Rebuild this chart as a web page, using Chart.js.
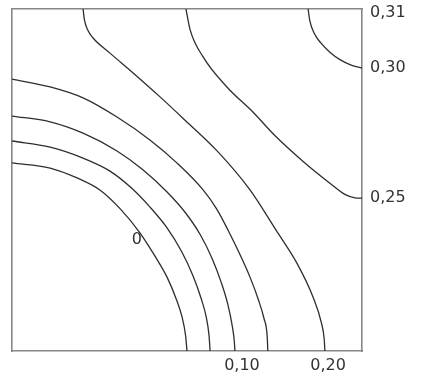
<!DOCTYPE html>
<html>
<head>
<meta charset="utf-8">
<script src="https://cdn.jsdelivr.net/npm/chart.js@4/dist/chart.umd.min.js"></script>
<style>
  html, body { margin: 0; padding: 0; background: #fff; }
  #wrap { width: 424px; height: 380px; }
</style>
</head>
<body>
<div id="wrap"><canvas id="contourChart"></canvas></div>
<script>
// Contour lines (both axes 0..100 across the box)
const c0x = [0, 10.9, 18.6, 25.1, 31.0, 36.6, 41.0, 44.3, 47.0, 48.6, 49.6, 50.0];
const c0y = [55.0, 53.5, 50.6, 47.1, 41.5, 34.5, 27.5, 21.6, 15.0, 9.9, 4.5, 0];

const c1x = [0, 10.9, 20.3, 28.0, 34.3, 39.5, 44.3, 48.5, 51.7, 54.0, 55.5, 56.3, 56.6];
const c1y = [61.4, 59.6, 56.4, 52.6, 47.5, 42.0, 36.0, 29.0, 22.0, 15.5, 9.9, 4.5, 0];

const c2x = [0, 10.9, 20.3, 30.0, 37.4, 44.3, 49.5, 53.8, 57.2, 59.8, 61.7, 62.9, 63.5, 63.7];
const c2y = [68.7, 67.0, 63.7, 58.5, 53.0, 46.5, 40.5, 34.0, 27.0, 20.0, 13.5, 7.5, 3.0, 0];

const c3x = [0, 10.9, 20.3, 30.0, 39.4, 47.1, 54.6, 58.5, 61.7, 65.0, 68.0, 70.4, 72.0, 72.9, 73.1];
const c3y = [79.5, 77.2, 74.0, 68.4, 61.7, 55.0, 47.1, 41.5, 35.4, 28.5, 21.6, 15.0, 9.5, 4.5, 0];

const c4x = [20.3, 20.7, 21.6, 23.1, 28.0, 34.6, 42.3, 48.9, 58.6, 68.0, 75.4, 81.4, 86.0, 88.4, 89.2, 89.4];
const c4y = [100, 96.8, 93.9, 91.6, 87.1, 81.3, 74.3, 68.0, 58.5, 47.1, 35.4, 25.7, 15.8, 8.2, 3.5, 0];

const c5x = [49.7, 50.9, 54.6, 61.4, 68.9, 75.1, 83.1, 90.9, 95.1, 98.0, 100];
const c5y = [100, 93.9, 86.0, 77.2, 69.8, 63.0, 55.5, 49.0, 45.8, 44.8, 44.7];

const c6x = [84.6, 85.1, 86.3, 88.3, 90.9, 93.7, 96.9, 100];
const c6y = [100, 96.5, 93.0, 90.0, 87.3, 85.2, 83.6, 82.7];

// Contour value labels
const rightTickValues = [99.0, 82.7, 44.7];
const rightTickLabels = ['0,31', '0,30', '0,25'];
const bottomTickValues = [65.7, 90.3];
const bottomTickLabels = ['0,10', '0,20'];
const innerLabel = { text: '0', x: 35.7, y: 32.5 };

const contours = [[c0x, c0y], [c1x, c1y], [c2x, c2y], [c3x, c3y], [c4x, c4y], [c5x, c5y], [c6x, c6y]];

const labelFont = { family: 'DejaVu Sans', size: 16 };
const frameColor = '#868686';

function toPoints(xs, ys) {
    return xs.map((x, i) => ({ x: x, y: ys[i] }));
}

// draws the "0" label inside the plot
const innerLabelPlugin = {
    id: 'innerLabel',
    afterDatasetsDraw(chart) {
        const ctx = chart.ctx;
        const px = chart.scales.x.getPixelForValue(innerLabel.x);
        const py = chart.scales.y.getPixelForValue(innerLabel.y);
        ctx.save();
        ctx.font = labelFont.size + 'px ' + labelFont.family;
        ctx.fillStyle = '#333';
        ctx.textAlign = 'center';
        ctx.textBaseline = 'middle';
        ctx.fillText(innerLabel.text, px, py);
        ctx.restore();
    }
};

const ctx = document.getElementById('contourChart').getContext('2d');
new Chart(ctx, {
    type: 'scatter',
    data: {
        datasets: contours.map(([xs, ys]) => ({
            data: toPoints(xs, ys),
            showLine: true,
            borderColor: '#2e2e2e',
            borderWidth: 1.3,
            pointRadius: 0,
            cubicInterpolationMode: 'monotone',
            fill: false
        }))
    },
    options: {
        responsive: true,
        maintainAspectRatio: false,
        animation: false,
        layout: { padding: { left: 12, top: 9 } },
        plugins: {
            legend: { display: false },
            tooltip: { enabled: false }
        },
        scales: {
            x: {
                type: 'linear',
                min: 0,
                max: 100,
                grid: { display: false },
                border: { display: true, color: frameColor, width: 1.6 },
                afterBuildTicks: axis => {
                    axis.ticks = bottomTickValues.map(v => ({ value: v }));
                },
                afterFit: axis => {
                    axis.height = 29;
                    axis.paddingLeft = 0;
                    axis.paddingRight = 0;
                },
                ticks: {
                    autoSkip: false,
                    maxRotation: 0,
                    padding: -3,
                    color: '#333',
                    font: labelFont,
                    callback: (v, i) => bottomTickLabels[i]
                }
            },
            xTop: {
                type: 'linear',
                position: 'top',
                min: 0,
                max: 100,
                grid: { display: false },
                ticks: { display: false },
                border: { display: true, color: frameColor, width: 1.6 },
                afterFit: axis => { axis.height = 0; }
            },
            y: {
                type: 'linear',
                position: 'right',
                min: 0,
                max: 100,
                grid: { display: false },
                border: { display: true, color: frameColor, width: 1.6 },
                afterBuildTicks: axis => {
                    axis.ticks = rightTickValues.map(v => ({ value: v }));
                },
                afterFit: axis => {
                    axis.width = 62;
                    axis.paddingTop = 0;
                    axis.paddingBottom = 0;
                },
                ticks: {
                    autoSkip: false,
                    padding: 0,
                    color: '#333',
                    font: labelFont,
                    callback: (v, i) => rightTickLabels[i]
                }
            },
            yLeft: {
                type: 'linear',
                position: 'left',
                min: 0,
                max: 100,
                grid: { display: false },
                ticks: { display: false },
                border: { display: true, color: frameColor, width: 1.6 },
                afterFit: axis => { axis.width = 0; }
            }
        }
    },
    plugins: [innerLabelPlugin]
});
</script>
</body>
</html>
